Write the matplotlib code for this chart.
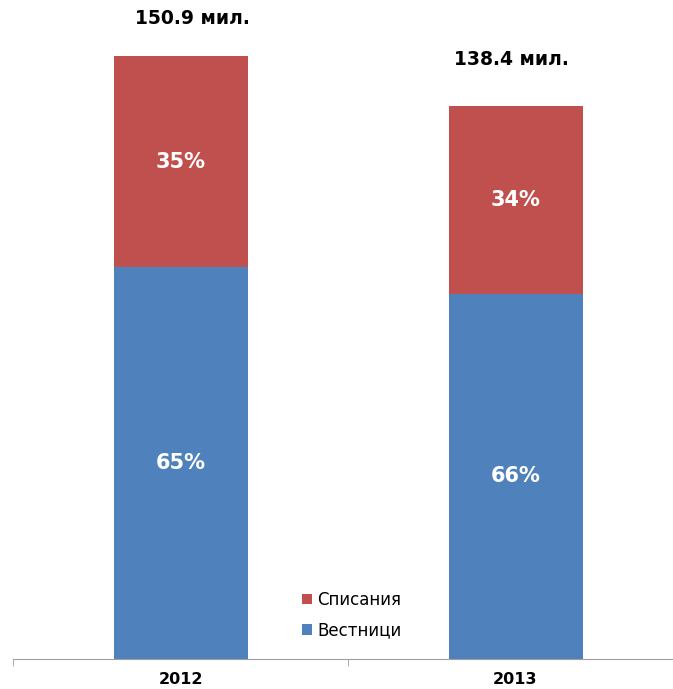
import numpy as np
import matplotlib.pyplot as plt

# Totals (million) and shares per year
years = ["2012", "2013"]
totals = [150.9, 138.4]
share_newspapers = [65, 66]   # Вестници
share_magazines = [35, 34]    # Списания
total_labels = ["150.9 мил.", "138.4 мил."]

blue = "#4F81BD"
red = "#C0504D"

plt.rcParams['font.family'] = ['DejaVu Sans']

fig = plt.figure(figsize=(6.73, 6.89), dpi=100)
ax = fig.add_axes([13 / 673, 30 / 689, 670 / 673, 659 / 689])

x = np.arange(len(years))
tot = np.array(totals)
news = tot * np.array(share_newspapers) / 100
mags = tot * np.array(share_magazines) / 100

bw = 0.4
b1 = ax.bar(x, news, bw, color=blue, label="Вестници")
b2 = ax.bar(x, mags, bw, bottom=news, color=red, label="Списания")

for i in range(len(years)):
    ax.text(x[i], news[i] / 2, f"{share_newspapers[i]}%", color="white",
            fontsize=15, fontweight="bold", ha="center", va="center")
    ax.text(x[i], news[i] + mags[i] / 2, f"{share_magazines[i]}%", color="white",
            fontsize=15, fontweight="bold", ha="center", va="center")

# total labels above the bars
offsets = [(0.035, 9.5), (-0.012, 11.5)]
for i in range(len(years)):
    dx, dy = offsets[i]
    ax.text(x[i] + dx, tot[i] + dy, total_labels[i], fontsize=13.5,
            fontweight="bold", ha="center", va="center")

ax.set_xlim(-0.5, 1.5)
ax.set_ylim(0, 659 / 3.996)
ax.set_yticks([])
ax.set_xticks(x)
ax.set_xticklabels(years, fontsize=11.5, fontweight="bold")
ax.set_xticks([-0.5, 0.5, 1.5], minor=True)
ax.tick_params(axis="x", which="major", length=0, pad=9)
ax.tick_params(axis="x", which="minor", length=5, color="#A0A0A0")
for s in ["top", "right", "left"]:
    ax.spines[s].set_visible(False)
ax.spines["bottom"].set_color("#A0A0A0")

handles = [b2, b1]
ax.legend(handles, ["Списания", "Вестници"], loc="center",
          bbox_to_anchor=(339 / 670, 1 - 615 / 659), frameon=False,
          fontsize=12, handlelength=0.6, handleheight=0.6,
          handletextpad=0.3, labelspacing=0.75)

fig.savefig("out.png", dpi=100)
